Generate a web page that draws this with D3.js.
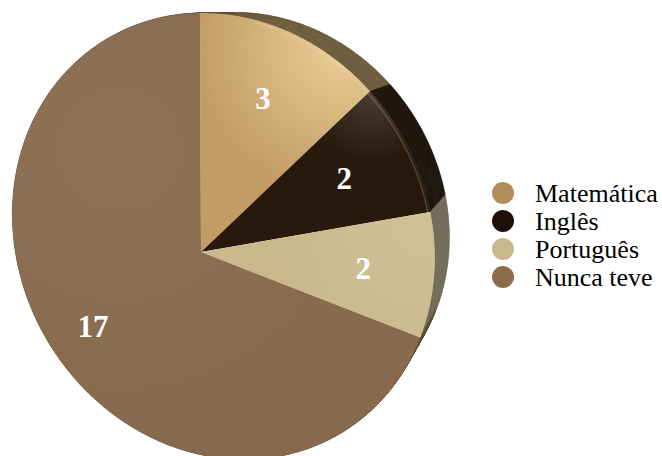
<!DOCTYPE html>
<html lang="pt">
<head>
    <meta charset="UTF-8">
    <title>Disciplinas</title>
    <script src="https://d3js.org/d3.v7.min.js"></script>
    <style>
        body { margin: 0; background: #fff; }
    </style>
</head>
<body>
    <div id="chart"></div>

    <script>
        var categories = ["Matemática", "Inglês", "Português", "Nunca teve"];
        var values = [3, 2, 2, 17];
        var faceColors = ["#c29c65", "#28190c", "#c8b88c", "#876a4e"];
        var lightColors = ["#eccf98", "#4a3c31", "#cfc197", "#8e7256"];
        var sideColors = ["#6b5a3b", "#1b120a", "#6e6a55", "#5e4a36"];
        var legendColors = ["#b08d5a", "#1c1007", "#c8b88b", "#8b6c4e"];

        var width = 662;
        var height = 456;

        // perspective of the tilted disc (unit circle -> screen)
        var H = { a: 186.6, b: 17.3, c: 201, d: -4.4, e: 240, f: 252, g: -0.1069, h: 0.0814 };
        function project(p) {
            var w = 1 + H.g * p[0] + H.h * p[1];
            return [(H.a * p[0] + H.b * p[1] + H.c) / w, (H.d * p[0] + H.e * p[1] + H.f) / w];
        }
        // back face of the disc, pulled toward the vanishing point
        var vp = [608, 9], k = 0.916;
        function back(p) {
            return [vp[0] + k * (p[0] - vp[0]), vp[1] + k * (p[1] - vp[1])];
        }
        function arcPoints(a0, a1) {
            var n = Math.max(2, Math.ceil((a1 - a0) / 0.01));
            return d3.range(n + 1).map(function(i) {
                var a = a0 + (a1 - a0) * i / n;
                return project([Math.sin(a), -Math.cos(a)]);
            });
        }

        var svg = d3.select("#chart")
                    .append("svg")
                    .attr("width", width)
                    .attr("height", height);

        var defs = svg.append("defs");
        var gradCenters = [[345, 45, 150], [372, 92, 70], [420, 230, 150], [120, 150, 300]];
        categories.forEach(function(c, i) {
            var gr = defs.append("radialGradient")
                         .attr("id", "g" + i)
                         .attr("gradientUnits", "userSpaceOnUse")
                         .attr("cx", gradCenters[i][0])
                         .attr("cy", gradCenters[i][1])
                         .attr("r", gradCenters[i][2]);
            gr.append("stop").attr("offset", "0%").attr("stop-color", lightColors[i]);
            gr.append("stop").attr("offset", "100%").attr("stop-color", faceColors[i]);
        });

        var pie = d3.pie().sort(null).value(function(d) { return d; });
        var arcs = pie(values);
        var line = d3.line();

        // side of the disc
        var side = svg.append("g");
        arcs.forEach(function(d, i) {
            var pts = arcPoints(d.startAngle, d.endAngle);
            for (var j = 0; j < pts.length - 1; j++) {
                var quad = [pts[j], pts[j + 1], back(pts[j + 1]), back(pts[j])];
                side.append("path")
                    .attr("d", line(quad) + "Z")
                    .attr("fill", sideColors[i])
                    .attr("stroke", sideColors[i])
                    .attr("stroke-width", 0.6);
            }
        });

        // top face
        var center = project([0, 0]);
        svg.append("g")
           .selectAll("path")
           .data(arcs)
           .enter()
           .append("path")
           .attr("d", function(d) { return line([center].concat(arcPoints(d.startAngle, d.endAngle))) + "Z"; })
           .attr("fill", function(d, i) { return "url(#g" + i + ")"; });

        // rim highlight on the front edge
        svg.append("path")
           .attr("d", line(arcPoints(arcs[0].startAngle + 0.25, arcs[1].endAngle)))
           .attr("fill", "none")
           .attr("stroke", "rgba(255,235,200,0.2)")
           .attr("stroke-width", 1.5)
           .attr("transform", "translate(-2,2)");

        var labelArc = d3.arc().innerRadius(0.72).outerRadius(0.72);
        svg.append("g")
           .selectAll("text")
           .data(arcs)
           .enter()
           .append("text")
           .attr("transform", function(d) { return "translate(" + project(labelArc.centroid(d)) + ")"; })
           .attr("text-anchor", "middle")
           .attr("dy", "0.3em")
           .attr("font-family", "'Liberation Serif', 'Times New Roman', serif")
           .attr("font-weight", "bold")
           .attr("font-size", "31px")
           .attr("fill", "white")
           .text(function(d) { return d.data; });

        // legenda
        var legend = svg.append("g")
                        .attr("transform", "translate(503,193)");
        var rows = legend.selectAll("g")
                         .data(categories)
                         .enter()
                         .append("g")
                         .attr("transform", function(d, i) { return "translate(0," + i * 28 + ")"; });
        rows.append("circle")
            .attr("r", 11)
            .attr("fill", function(d, i) { return legendColors[i]; });
        rows.append("text")
            .attr("x", 32)
            .attr("y", 9)
            .attr("font-family", "'Liberation Serif', 'Times New Roman', serif")
            .attr("font-size", "26px")
            .attr("fill", "black")
            .text(function(d) { return d; });
    </script>
</body>
</html>
